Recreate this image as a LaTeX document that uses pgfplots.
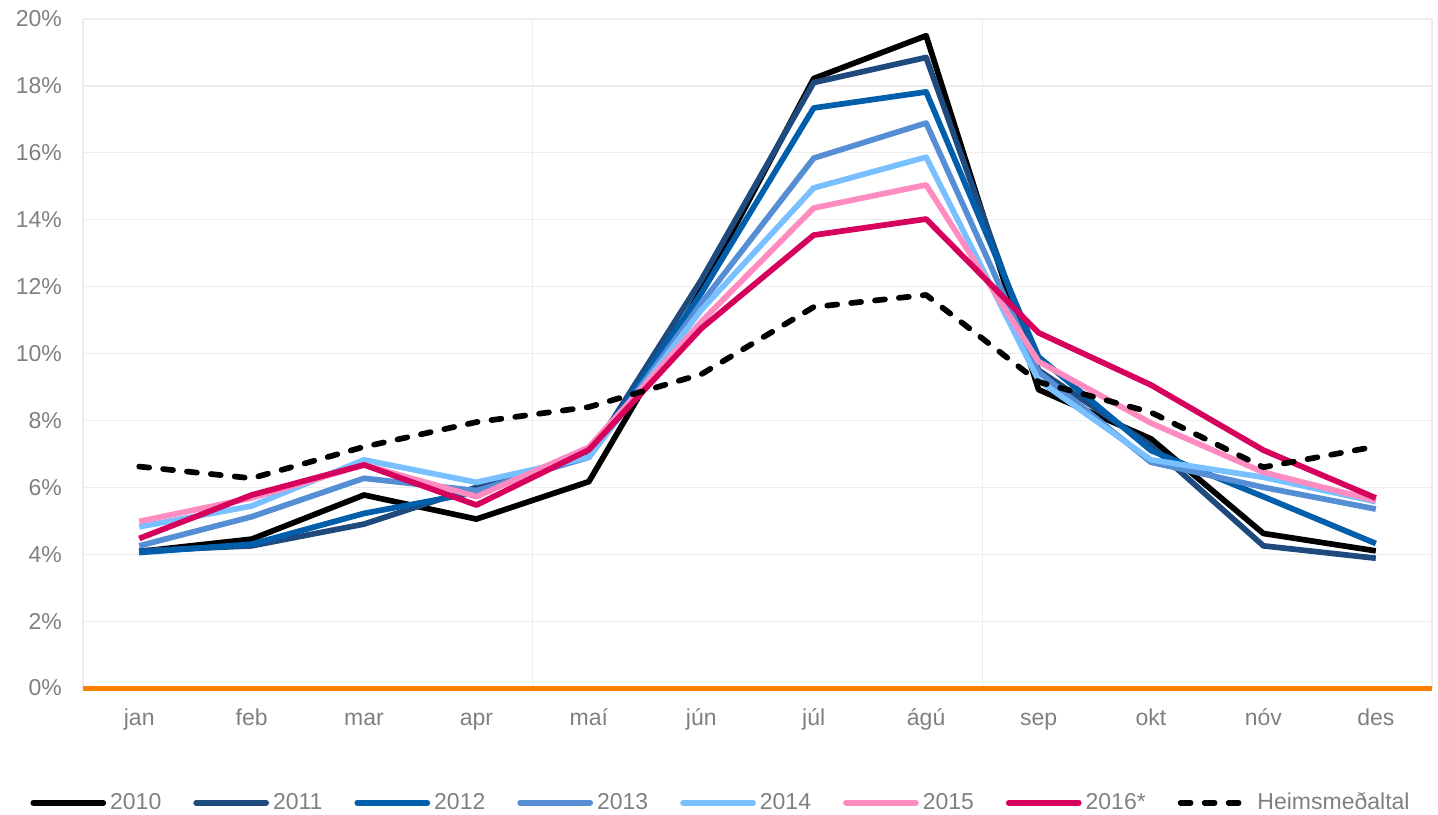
\documentclass[border=0pt]{standalone}
\usepackage{pgfplots}
\pgfplotsset{compat=1.18}
\usepackage{fontspec}
\setmainfont{Liberation Sans}
\definecolor{c2010}{HTML}{000000}
\definecolor{c2011}{HTML}{1F4A7E}
\definecolor{c2012}{HTML}{005EAA}
\definecolor{c2013}{HTML}{558ED5}
\definecolor{c2014}{HTML}{78C0FF}
\definecolor{c2015}{HTML}{FF8CC0}
\definecolor{c2016}{HTML}{D6005D}
\definecolor{corange}{HTML}{FF7F00}
\definecolor{tgray}{HTML}{808080}
\definecolor{ggray}{HTML}{EDEDED}
\begin{document}
\begin{tikzpicture}
\begin{axis}[
  scale only axis,
  width=674.5pt, height=334.5pt,
  xmin=0, xmax=12, ymin=0, ymax=20,
  axis line style={draw=none},
  xtick={0.5,1.5,...,11.5},
  xticklabels={jan,feb,mar,apr,maí,jún,júl,ágú,sep,okt,nóv,des},
  ytick={0,2,...,20},
  yticklabel={\pgfmathprintnumber{\tick}\%},
  /pgf/number format/assume math mode=true,
  major tick length=0pt,
  ymajorgrids,
  grid style={ggray, line width=0.6pt},
  extra x ticks={0,4,8,12},
  extra x tick labels={},
  extra x tick style={grid=major, major tick length=0pt},
  tick label style={font=\fontsize{11.5}{13}\selectfont, text=tgray},
  yticklabel style={xshift=-7pt},
  xticklabel style={yshift=-7pt, text height=1.6ex, text depth=0.45ex},
  every axis plot/.append style={line width=2.85pt, line join=round},
  legend style={draw=none, fill=none, at={(0.4737,-0.1715)}, anchor=center,
    font=\fontsize{11.5}{13}\selectfont, text=tgray,
    /tikz/every even column/.append style={column sep=14pt}},
  legend columns=-1,
  legend image code/.code={\draw[#1, line cap=round] (0pt,0pt) -- (35pt,0pt);},
  clip=false,
]
\addplot[corange, line width=2.5pt, forget plot] coordinates {(0,0) (12,0)};
\addplot[c2010] coordinates {(0.5,4.08)(1.5,4.45)(2.5,5.77)(3.5,5.05)(4.5,6.17)(5.5,11.9)(6.5,18.22)(7.5,19.5)(8.5,8.92)(9.5,7.45)(10.5,4.62)(11.5,4.1)};
\addlegendentry{2010}
\addplot[c2011] coordinates {(0.5,4.1)(1.5,4.25)(2.5,4.9)(3.5,6.0)(4.5,6.9)(5.5,12.2)(6.5,18.1)(7.5,18.85)(8.5,9.5)(9.5,7.25)(10.5,4.25)(11.5,3.88)};
\addlegendentry{2011}
\addplot[c2012] coordinates {(0.5,4.05)(1.5,4.3)(2.5,5.22)(3.5,5.85)(4.5,6.95)(5.5,11.8)(6.5,17.34)(7.5,17.82)(8.5,9.9)(9.5,7.1)(10.5,5.72)(11.5,4.32)};
\addlegendentry{2012}
\addplot[c2013] coordinates {(0.5,4.25)(1.5,5.12)(2.5,6.27)(3.5,5.9)(4.5,6.9)(5.5,11.5)(6.5,15.84)(7.5,16.89)(8.5,9.45)(9.5,6.75)(10.5,6.0)(11.5,5.35)};
\addlegendentry{2013}
\addplot[c2014] coordinates {(0.5,4.82)(1.5,5.44)(2.5,6.82)(3.5,6.15)(4.5,6.9)(5.5,11.3)(6.5,14.95)(7.5,15.87)(8.5,9.2)(9.5,6.82)(10.5,6.3)(11.5,5.57)};
\addlegendentry{2014}
\addplot[c2015] coordinates {(0.5,4.98)(1.5,5.68)(2.5,6.67)(3.5,5.72)(4.5,7.2)(5.5,10.95)(6.5,14.35)(7.5,15.04)(8.5,9.76)(9.5,7.92)(10.5,6.45)(11.5,5.6)};
\addlegendentry{2015}
\addplot[c2016] coordinates {(0.5,4.47)(1.5,5.77)(2.5,6.67)(3.5,5.47)(4.5,7.12)(5.5,10.75)(6.5,13.54)(7.5,14.02)(8.5,10.62)(9.5,9.06)(10.5,7.11)(11.5,5.68)};
\addlegendentry{2016*}
\addplot[black, line cap=round, dash pattern=on 5pt off 7pt] coordinates {(0.5,6.62)(1.5,6.27)(2.5,7.21)(3.5,7.95)(4.5,8.4)(5.5,9.38)(6.5,11.39)(7.5,11.75)(8.5,9.15)(9.5,8.24)(10.5,6.6)(11.5,7.22)};
\addlegendentry{Heimsmeðaltal}
\end{axis}
\pgfresetboundingbox
\path (-41.5pt,-63pt) rectangle (677.5pt,344pt);
\end{tikzpicture}
\end{document}
